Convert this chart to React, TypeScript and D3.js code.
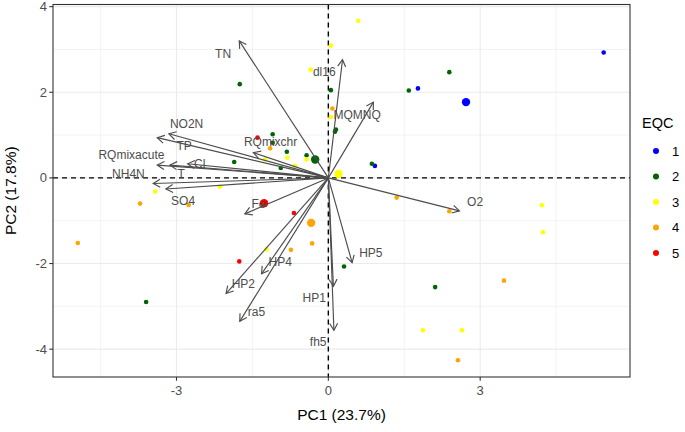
import * as d3 from 'd3';
import React from 'react';

// sample scores (PC1, PC2) and their EQC class
const scoreX = [5.44, 1.77, 0.92,
  -1.75, 0.05, 0.15, 0.13, -1.10, -1.10, -0.82, -0.43, -0.94, -1.86, 2.39, 1.59, 0.86, 0.31, 2.11, -3.60,
  0.05, -0.35, 0.05, -0.81, -0.43, -1.25, -0.66, -2.14, -3.42, 0.59, 4.22, 4.24, -1.22, 1.87, 2.64,
  0.08, -1.15, -3.72, -2.76, 1.35, 2.39, -4.95, -0.74, -0.32, 3.47, 2.56,
  -1.40, -0.68, -1.76];
const scoreY = [2.93, 2.09, 0.28,
  2.19, 2.05, 1.13, 1.08, 1.02, 0.82, 0.61, 0.53, 0.23, 0.37, 2.47, 2.04, 0.33, -2.07, -2.55, -2.90,
  3.09, 2.53, 1.42, 0.47, 0.43, 0.43, 0.28, -0.20, -0.32, 3.67, -0.64, -1.27, -1.67, -3.56, -3.56,
  1.62, 0.69, -0.60, -0.63, -0.46, -0.78, -1.52, -1.68, -1.53, -2.40, -4.26,
  0.94, -0.82, -1.95];
const scoreGroup = ['1', '1', '1',
  '2', '2', '2', '2', '2', '2', '2', '2', '2', '2', '2', '2', '2', '2', '2', '2',
  '3', '3', '3', '3', '3', '3', '3', '3', '3', '3', '3', '3', '3', '3', '3',
  '4', '4', '4', '4', '4', '4', '4', '4', '4', '4', '4',
  '5', '5', '5'];

// group means
const groups = ['1', '2', '3', '4', '5'];
const meanX = [2.72, -0.26, 0.20, -0.34, -1.27];
const meanY = [1.77, 0.43, 0.09, -1.05, -0.59];
const groupColors = ['#0000FF', '#006400', '#FFFF00', '#FFA500', '#FF0000'];

// variable loadings and label anchors
const varNames = ['TN', 'dl16', 'MQMNQ', 'NO2N', 'TP', 'RQmixchr', 'RQmixacute', 'Cl', 'T', 'NH4N',
  'SO4', 'Fe', 'HP2', 'HP4', 'ra5', 'HP1', 'fh5', 'HP5', 'O2'];
const loadX = [-1.76, 0.28, 0.89, -3.15, -3.38, -1.48, -3.38, -2.78, -3.13, -3.46,
  -3.21, -1.65, -2.02, -1.32, -1.75, 0.10, 0.11, 0.47, 2.59];
const loadY = [3.20, 2.76, 1.77, 1.03, 0.94, 0.59, 0.30, 0.33, 0.30, -0.13,
  -0.26, -0.84, -2.70, -2.24, -3.35, -2.53, -3.56, -1.98, -0.77];
const labelX = [-2.08, -0.08, 0.57, -2.80, -2.85, -1.14, -3.89, -2.54, -2.91, -3.95,
  -2.87, -1.38, -1.68, -0.95, -1.42, -0.28, -0.20, 0.84, 2.90];
const labelY = [2.91, 2.47, 1.47, 1.27, 0.76, 0.84, 0.53, 0.32, 0.09, 0.09,
  -0.53, -0.61, -2.47, -1.97, -3.12, -2.80, -3.83, -1.74, -0.55];

const xTicks = [-3, 0, 3];
const yTicks = [-4, -2, 0, 2, 4];

const W = 685, H = 432;
const panel = { left: 53, right: 630, top: 4.5, bottom: 377 };
const font = 'Liberation Sans, Arial, Helvetica, sans-serif';

const App = () => {
  const x = d3.scaleLinear().domain([-5.44, 5.96]).range([panel.left, panel.right]);
  const y = d3.scaleLinear().domain([-4.65, 4.05]).range([panel.bottom, panel.top]);

  const minorX = xTicks.slice(0, -1).map((t, i) => (t + xTicks[i + 1]) / 2)
    .concat([xTicks[0] - 1.5, xTicks[xTicks.length - 1] + 1.5]);
  const minorY = yTicks.slice(0, -1).map((t, i) => (t + yTicks[i + 1]) / 2);
  const color = d3.scaleOrdinal<string, string>().domain(groups).range(groupColors);

  const arrowHead = (x0: number, y0: number, x1: number, y1: number) => {
    const a = Math.atan2(y1 - y0, x1 - x0);
    const len = 8, spread = Math.PI / 6;
    const p1 = [x1 - len * Math.cos(a - spread), y1 - len * Math.sin(a - spread)];
    const p2 = [x1 - len * Math.cos(a + spread), y1 - len * Math.sin(a + spread)];
    return `M${p1[0]},${p1[1]}L${x1},${y1}L${p2[0]},${p2[1]}`;
  };

  return (
    <svg width={W} height={H} style={{ position: 'absolute', left: 0, top: 0, fontFamily: font }}>
      <rect x={0} y={0} width={W} height={H} fill="#fff" />
      {/* grid */}
      <g stroke="#EBEBEB">
        {minorX.map((t) => <line key={'mx' + t} x1={x(t)} x2={x(t)} y1={panel.top} y2={panel.bottom} strokeWidth={0.6} />)}
        {minorY.map((t) => <line key={'my' + t} y1={y(t)} y2={y(t)} x1={panel.left} x2={panel.right} strokeWidth={0.6} />)}
        {xTicks.map((t) => <line key={'gx' + t} x1={x(t)} x2={x(t)} y1={panel.top} y2={panel.bottom} strokeWidth={1.1} />)}
        {yTicks.map((t) => <line key={'gy' + t} y1={y(t)} y2={y(t)} x1={panel.left} x2={panel.right} strokeWidth={1.1} />)}
      </g>
      {/* zero lines */}
      <line x1={x(0)} x2={x(0)} y1={panel.top} y2={panel.bottom} stroke="#000" strokeWidth={1.4} strokeDasharray="5,4" />
      <line y1={y(0)} y2={y(0)} x1={panel.left} x2={panel.right} stroke="#000" strokeWidth={1.4} strokeDasharray="5,4" />
      {/* scores */}
      <g>
        {scoreX.map((v, i) => (
          <circle key={'p' + i} cx={x(v)} cy={y(scoreY[i])} r={2.3} fill={color(scoreGroup[i])} />
        ))}
        {meanX.map((v, i) => (
          <circle key={'m' + i} cx={x(v)} cy={y(meanY[i])} r={4.2} fill={color(groups[i])} />
        ))}
      </g>
      {/* loadings */}
      <g stroke="#4D4D4D" strokeWidth={1.15} fill="none">
        {varNames.map((n, i) => {
          const x1 = x(loadX[i]), y1 = y(loadY[i]);
          return (
            <g key={'a' + n}>
              <line x1={x(0)} y1={y(0)} x2={x1} y2={y1} />
              <path d={arrowHead(x(0), y(0), x1, y1)} />
            </g>
          );
        })}
      </g>
      <g fill="#4D4D4D" fontSize={12} textAnchor="middle">
        {varNames.map((n, i) => (
          <text key={'l' + n} x={x(labelX[i])} y={y(labelY[i])} dy="0.35em">{n}</text>
        ))}
      </g>
      {/* panel border */}
      <rect x={panel.left} y={panel.top} width={panel.right - panel.left} height={panel.bottom - panel.top}
        fill="none" stroke="#333333" strokeWidth={1.1} />
      {/* axes */}
      <g fill="#4D4D4D" fontSize={13}>
        {xTicks.map((t) => (
          <g key={'xt' + t}>
            <line x1={x(t)} x2={x(t)} y1={panel.bottom} y2={panel.bottom + 3.7} stroke="#333333" strokeWidth={1.1} />
            <text x={x(t)} y={panel.bottom + 13.5} textAnchor="middle" dy="0.35em">{t}</text>
          </g>
        ))}
        {yTicks.map((t) => (
          <g key={'yt' + t}>
            <line x1={panel.left - 3.7} x2={panel.left} y1={y(t)} y2={y(t)} stroke="#333333" strokeWidth={1.1} />
            <text x={panel.left - 6} y={y(t)} textAnchor="end" dy="0.35em">{t}</text>
          </g>
        ))}
      </g>
      <text x={(panel.left + panel.right) / 2} y={415} fontSize={15.5} textAnchor="middle" dy="0.35em">PC1 (23.7%)</text>
      <text transform={`translate(11,${(panel.top + panel.bottom) / 2}) rotate(-90)`} fontSize={15.5}
        textAnchor="middle" dy="0.35em">PC2 (17.8%)</text>
      {/* legend */}
      <text x={642} y={123} fontSize={14.5} dy="0.35em">EQC</text>
      {groups.map((g, i) => (
        <g key={'lg' + g} transform={`translate(656,${151 + i * 25.5})`}>
          <circle r={3} fill={color(g)} />
          <text x={16} fontSize={13} dy="0.35em">{g}</text>
        </g>
      ))}
    </svg>
  );
};

export default App;
